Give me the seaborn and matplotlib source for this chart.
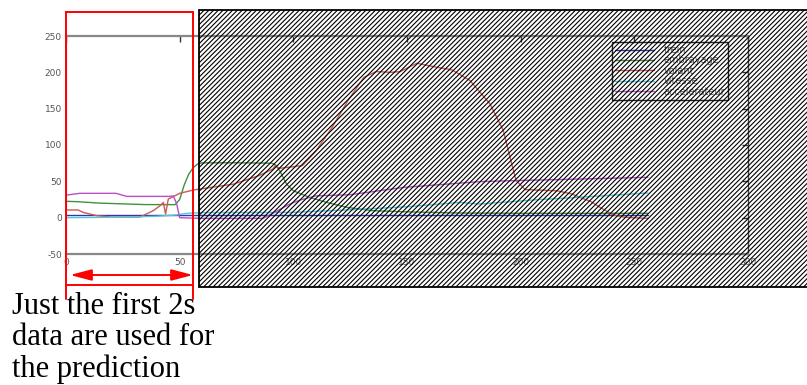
import numpy as np
import pandas as pd
import matplotlib
matplotlib.use("Agg")
import matplotlib.pyplot as plt
import seaborn as sns
from matplotlib.patches import Rectangle, FancyArrowPatch
from matplotlib.lines import Line2D

# ---- data ----
trein_x = [0, 50, 100, 150, 200, 256]
trein_y = [4, 4, 4, 4, 4, 4]

embrayage_x = [0, 5, 15, 27, 35, 48, 50, 52, 54, 56, 58, 60, 75, 90.5, 92, 94, 97, 100, 107, 114.7, 123.5, 135, 150, 173, 200, 230, 256]
embrayage_y = [22.5, 22, 20, 18.8, 18, 17.9, 25, 45, 60, 69, 74, 75.5, 75.5, 75, 73, 64.7, 46.4, 37, 28, 21, 14.2, 9.6, 8, 6.4, 6, 6, 6]

volant_x = [0, 5.4, 7.5, 13.5, 20, 32.5, 38.4, 41.4, 42.8, 43.8, 45, 47.2, 50, 56, 59, 73.5, 85, 91, 92, 94, 97, 104, 110, 117, 124, 131, 136.4, 143, 147,
            154.3, 163, 167.5, 170, 177.7, 186.5, 192.4, 195.3, 198, 202, 216, 222.6, 226, 231, 235, 240.8, 246, 256]
volant_y = [10.6, 10.6, 7.3, 2.8, 0.8, 0.8, 9.6, 16.5, 21, 5, 25.7, 29, 33.5, 38, 39.5, 46, 58, 67, 71.5, 68, 69, 71.6, 92, 124, 161, 193, 201, 200, 201,
            212.5, 207, 204.8, 203, 188.7, 156.6, 119.8, 83, 51, 38.6, 37, 32.6, 28, 22, 14, 3.7, 0.5, -1]

vitesse_x = [0, 20, 34, 40, 48.7, 53, 60, 100, 126, 150, 173, 182, 208.5, 218.7, 256]
vitesse_y = [0, 0.5, 1.4, 2, 3.7, 6, 7, 7.3, 11, 15, 21, 18.8, 25, 26.6, 34]

accel_x = [0, 6, 22, 26.7, 45.7, 47.2, 48.7, 50, 60, 86.7, 98.5, 103, 110, 125, 148.7, 182, 198, 256]
accel_y = [31, 33.5, 33.5, 29.3, 29.3, 30, 19, 0, -1, -1, 18.8, 24.3, 30, 31.6, 41.7, 49.6, 51, 55.5]

series_names = ["trein", "embrayage", "volant", "vitesse", "accelerateur"]
series_colors = ["#3535b0", "#3f913f", "#cc5a50", "#52c8d8", "#b84fc8"]
x_ticks = [0, 50, 100, 150, 200, 250, 300]
y_ticks = [-50, 0, 50, 100, 150, 200, 250]
note = "Just the first 2s\ndata are used for\nthe prediction"

frames = []
for name, xs, ys in zip(series_names,
                        [trein_x, embrayage_x, volant_x, vitesse_x, accel_x],
                        [trein_y, embrayage_y, volant_y, vitesse_y, accel_y]):
    frames.append(pd.DataFrame({"t": xs, "val": ys, "serie": name}))
df = pd.concat(frames, ignore_index=True)

sns.set_style("white")
plt.rcParams["hatch.linewidth"] = 0.8
plt.rcParams["axes.unicode_minus"] = False

W, H = 807, 385
fig = plt.figure(figsize=(W / 100, H / 100), dpi=100)
ax = fig.add_axes([66 / W, 1 - 254 / H, (748 - 66) / W, (254 - 36) / H])

sns.lineplot(data=df, x="t", y="val", hue="serie", hue_order=series_names,
             palette=series_colors, estimator=None, sort=False, lw=1.0, ax=ax)

ax.set_xlim(0, 300)
ax.set_ylim(-50, 250)
ax.set_xticks(x_ticks)
ax.set_yticks(y_ticks)
ax.set_xlabel("")
ax.set_ylabel("")
ax.tick_params(direction="in", length=4, width=1, color="#333333",
               top=True, right=True, labelsize=6.5, labelcolor="#555555", pad=3)
for side in ["top", "bottom"]:
    ax.spines[side].set_color("#888888")
    ax.spines[side].set_linewidth(1.6)
ax.spines["left"].set_color("#888888")
ax.spines["right"].set_color("#444444")
ax.spines["right"].set_linewidth(1.0)

leg = ax.legend(loc="upper left", bbox_to_anchor=(612 / W, 1 - 42 / H),
                bbox_transform=fig.transFigure, borderaxespad=0,
                fontsize=7, handlelength=4.0, handletextpad=1.0,
                labelspacing=0.05, frameon=True, fancybox=False,
                framealpha=1, edgecolor="#222222", borderpad=0.3)
leg.get_frame().set_linewidth(1.0)
leg.get_frame().set_facecolor("none")
for t in leg.get_texts():
    t.set_color("#555555")

# hatched cover over the unused part
fig.patches.append(Rectangle((199 / W, 1 - 287 / H), (W - 199) / W + 0.01, (287 - 10) / H,
                             transform=fig.transFigure, fill=False, hatch="///////",
                             edgecolor="black", lw=1.3, zorder=5))
# red window around the first 2s
fig.patches.append(Rectangle((66 / W, 1 - 285 / H), (193 - 66) / W, (285 - 12) / H,
                             transform=fig.transFigure, fill=False,
                             edgecolor="red", lw=1.4, zorder=6))
for px in (66, 193):
    fig.lines.append(Line2D([px / W, px / W], [1 - 299 / H, 1 - 285 / H],
                            transform=fig.transFigure, color="red", lw=1.4, zorder=6))
fig.patches.append(FancyArrowPatch((70 / W, 1 - 275 / H), (193 / W, 1 - 275 / H),
                                   transform=fig.transFigure,
                                   arrowstyle="<|-|>,head_length=13,head_width=3.4",
                                   mutation_scale=1, color="red", lw=1.4,
                                   shrinkA=0, shrinkB=0, zorder=7))

fig.text(12 / W, 1 - 292 / H, note, family="Liberation Serif", fontsize=22,
         va="top", ha="left", linespacing=1.1, color="black")

fig.savefig("out.png", dpi=100)
